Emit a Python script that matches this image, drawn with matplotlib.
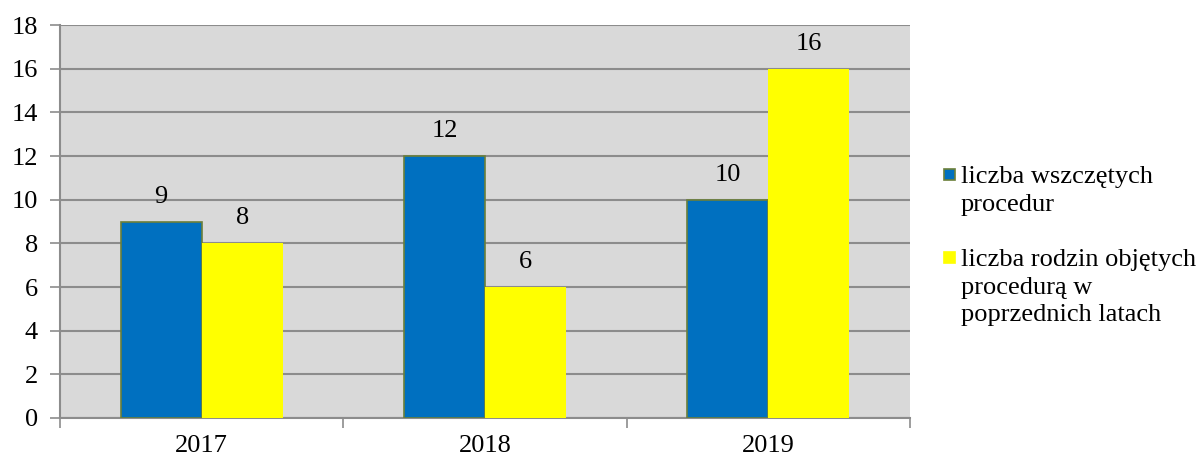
import matplotlib.pyplot as plt
from matplotlib.patches import Rectangle
import numpy as np

plt.rcParams['font.family'] = ['Liberation Serif', 'DejaVu Serif']

years = ['2017', '2018', '2019']
wszczete = [9, 12, 10]
rodziny = [8, 6, 16]
labels = ['liczba wszczętych\nprocedur',
          'liczba rodzin objętych\nprocedurą w\npoprzednich latach']
colors = ['#0070c0', '#ffff00']
edges = ['#6b7f3a', '#ffff00']

W, H = 1201, 459
fig = plt.figure(figsize=(W/100, H/100), dpi=100)
ax = fig.add_axes([60/W, 41/H, 850/W, 393/H])
ax.set_facecolor('#d9d9d9')

x = np.arange(len(years))
w = 0.286
b1 = ax.bar(x - w/2, wszczete, w, color=colors[0], edgecolor=edges[0], linewidth=1.2, zorder=3)
b2 = ax.bar(x + w/2, rodziny, w, color=colors[1], linewidth=0, zorder=3)

for bars in (b1, b2):
    ax.bar_label(bars, padding=10, fontsize=19)

ax.set_xlim(-0.5, 2.5)
ax.set_ylim(0, 18)
ax.set_yticks(range(0, 19, 2))
ax.yaxis.grid(True, color='#8c8c8c', linewidth=1.5, zorder=0)
ax.set_axisbelow(True)

ax.set_xticks(x)
ax.set_xticklabels(years)
ax.set_xticks([-0.5, 0.5, 1.5, 2.5], minor=True)
ax.tick_params(axis='x', which='major', length=0, pad=12, labelsize=19)
ax.tick_params(axis='x', which='minor', length=7, color='#8c8c8c', width=1.2)
ax.tick_params(axis='y', length=7, color='#8c8c8c', width=1.2, labelsize=19, pad=9)

for s in ['top', 'right']:
    ax.spines[s].set_visible(False)
for s in ['left', 'bottom']:
    ax.spines[s].set_color('#8c8c8c')
    ax.spines[s].set_linewidth(1.5)

# legend: square aligned with first text line, as in the original
for lab, c, e, ytop in zip(labels, colors, edges, [169, 252]):
    fig.patches.append(Rectangle((944/W, 1 - (ytop + 11)/H), 11/W, 11/H,
                                 transform=fig.transFigure, facecolor=c,
                                 edgecolor=e, linewidth=1.2))
    fig.text(961/W, 1 - (ytop - 3)/H, lab, fontsize=19, va='top', ha='left',
             linespacing=1.33)

fig.savefig('out.png', dpi=100)
